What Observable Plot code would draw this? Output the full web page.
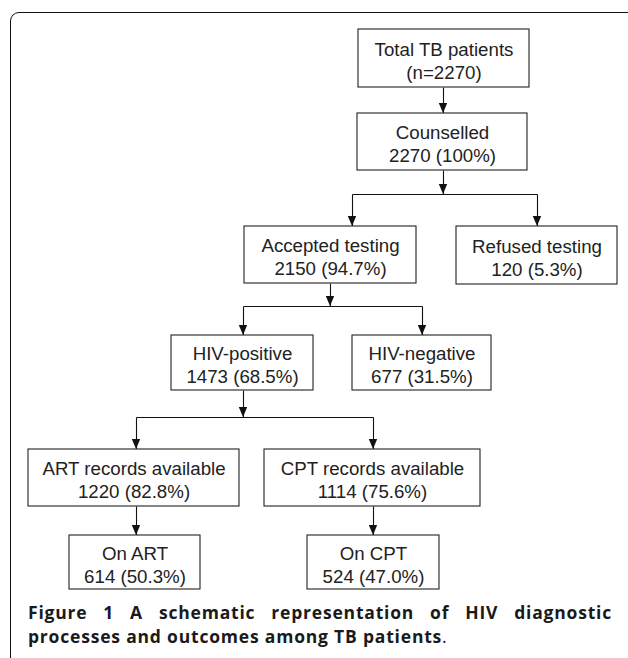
<!DOCTYPE html>
<html>
<head>
<meta charset="utf-8">
<script src="https://cdn.jsdelivr.net/npm/d3@7"></script>
<script src="https://cdn.jsdelivr.net/npm/@observablehq/plot@0.6"></script>
<style>
  html, body { margin: 0; padding: 0; background: #fff; }
  #wrap { position: relative; width: 628px; height: 658px; overflow: hidden; background: #fff; }
  #frame { position: absolute; left: 10px; top: 12px; width: 640px; height: 720px;
           border: 1.5px solid #111; border-radius: 9px; box-sizing: border-box; }
  #chart { position: absolute; left: 0; top: 0; }
  #caption { position: absolute; left: 28px; top: 601px; width: 584px;
             font-family: "Open Sans", sans-serif; font-weight: 700; font-size: 17.5px;
             line-height: 23.5px; color: #1a1a1a; letter-spacing: 0.8px; }
  #caption .l1 { text-align: justify; text-align-last: justify; white-space: nowrap; }
  #caption .dot { font-weight: 400; }
</style>
</head>
<body>
<div id="wrap">
  <div id="frame"></div>
  <div id="chart"></div>
  <div id="caption">
    <div class="l1">Figure 1 A schematic representation of HIV diagnostic</div>
    <div>processes and outcomes among TB patients<span class="dot">.</span></div>
  </div>
</div>
<script>
// ---- data ----
const labels = ["Total TB patients", "Counselled", "Accepted testing", "Refused testing",
  "HIV-positive", "HIV-negative", "ART records available", "CPT records available",
  "On ART", "On CPT"];
const counts = [2270, 2270, 2150, 120, 1473, 677, 1220, 1114, 614, 524];
const percents = [null, "100%", "94.7%", "5.3%", "68.5%", "31.5%", "82.8%", "75.6%", "50.3%", "47.0%"];
// parent -> children links
const edges = [[0, 1], [1, 2], [1, 3], [2, 4], [2, 5], [4, 6], [4, 7], [6, 8], [7, 9]];

// ---- layout (chart units, one unit = one pixel) ----
const boxX1 = [358, 357, 244, 456, 171, 352, 28, 264, 69, 307];
const boxX2 = [529, 527, 416, 617, 313, 491, 239, 480, 200, 439];
const boxY1 = [29, 113, 226, 226, 335, 335, 449, 449, 535, 535];
const boxY2 = [87, 170, 283, 284, 390, 390, 506, 506, 589, 589];
const inX  = [null, 443, 352, 537, 243, 422, 136, 373, 136, 373]; // where incoming arrow lands
const outX = {0: 443, 1: 443, 2: 330, 4: 243, 6: 136, 7: 373};    // where outgoing line leaves
const busY = {1: 194, 2: 306, 4: 417};                            // branching bus lines

const nodes = labels.map((label, i) => ({
  x1: boxX1[i], x2: boxX2[i], y1: boxY1[i], y2: boxY2[i],
  cx: (boxX1[i] + boxX2[i]) / 2, cy: (boxY1[i] + boxY2[i]) / 2,
  text: label + "\n" + (percents[i] == null ? `(n=${counts[i]})` : `${counts[i]} (${percents[i]})`)
}));

// build connector segments and arrow tips
const segs = [];
const tips = [];
const done = new Set();
for (const [p, c] of edges) {
  const children = edges.filter(e => e[0] === p).map(e => e[1]);
  if (children.length === 1) {
    segs.push({x1: outX[p], y1: boxY2[p], x2: inX[c], y2: boxY1[c]});
    tips.push({x: inX[c], y: boxY1[c]});
  } else {
    if (!done.has(p)) {
      done.add(p);
      segs.push({x1: outX[p], y1: boxY2[p], x2: outX[p], y2: busY[p]});
      tips.push({x: outX[p], y: busY[p]});
      const xs = children.map(k => inX[k]).concat([outX[p]]);
      segs.push({x1: Math.min(...xs), y1: busY[p], x2: Math.max(...xs), y2: busY[p]});
    }
    segs.push({x1: inX[c], y1: busY[p], x2: inX[c], y2: boxY1[c]});
    tips.push({x: inX[c], y: boxY1[c]});
  }
}
const headH = 10, headW = 4.2;
const tri = tips.flatMap((t, i) => [
  {k: i, y: t.y - headH, a: t.x - headW, b: t.x + headW},
  {k: i, y: t.y, a: t.x, b: t.x}
]);

const chart = Plot.plot({
  width: 628, height: 595,
  margin: 0,
  x: {domain: [0, 628], range: [0, 628], axis: null},
  y: {domain: [0, 595], range: [0, 595], axis: null},
  marks: [
    Plot.link(segs, {x1: "x1", y1: "y1", x2: "x2", y2: "y2", stroke: "#111", strokeWidth: 1.1}),
    Plot.areaX(tri, {y: "y", x1: "a", x2: "b", z: "k", fill: "#111", curve: "linear"}),
    Plot.rect(nodes, {x1: "x1", x2: "x2", y1: "y1", y2: "y2", fill: "white", stroke: "#222", strokeWidth: 1.1}),
    Plot.text(nodes, {x: "cx", y: "cy", text: "text", fontSize: 18.7, lineHeight: 1.23, dy: 1.5,
      fontFamily: "Liberation Sans, Arial, sans-serif", fill: "#222", textAnchor: "middle"})
  ]
});
document.getElementById("chart").appendChild(chart);
</script>
</body>
</html>
